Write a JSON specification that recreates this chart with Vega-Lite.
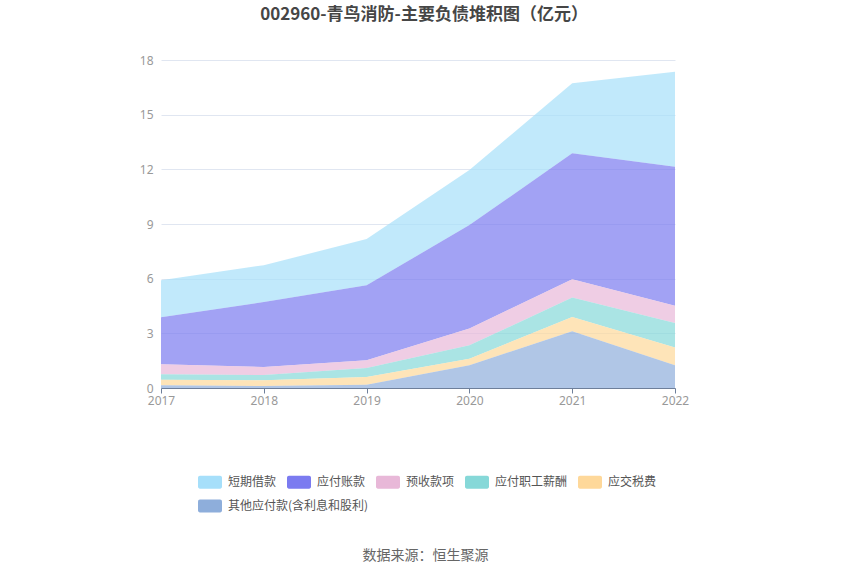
{
  "$schema": "https://vega.github.io/schema/vega-lite/v6.json",
  "autosize": {"type": "none"},
  "width": 514,
  "height": 328,
  "padding": {"left": 161, "top": 60, "right": 175, "bottom": 187},
  "background": "#ffffff",
  "title": {
    "text": "002960-青鸟消防-主要负债堆积图（亿元）",
    "anchor": "middle",
    "dx": 6,
    "offset": 30,
    "fontSize": 17,
    "fontWeight": "bold",
    "color": "#464646",
    "font": "Noto Sans CJK SC"
  },
  "config": {
    "view": {"stroke": null},
    "font": "Noto Sans CJK SC"
  },
  "data": {
    "values": [
      {"year": "2017", "series": "短期借款", "rank": 6, "value": 2.03},
      {"year": "2018", "series": "短期借款", "rank": 6, "value": 2.02},
      {"year": "2019", "series": "短期借款", "rank": 6, "value": 2.53},
      {"year": "2020", "series": "短期借款", "rank": 6, "value": 3.02},
      {"year": "2021", "series": "短期借款", "rank": 6, "value": 3.84},
      {"year": "2022", "series": "短期借款", "rank": 6, "value": 5.22},
      {"year": "2017", "series": "应付账款", "rank": 5, "value": 2.58},
      {"year": "2018", "series": "应付账款", "rank": 5, "value": 3.57},
      {"year": "2019", "series": "应付账款", "rank": 5, "value": 4.12},
      {"year": "2020", "series": "应付账款", "rank": 5, "value": 5.68},
      {"year": "2021", "series": "应付账款", "rank": 5, "value": 6.91},
      {"year": "2022", "series": "应付账款", "rank": 5, "value": 7.63},
      {"year": "2017", "series": "预收款项", "rank": 4, "value": 0.55},
      {"year": "2018", "series": "预收款项", "rank": 4, "value": 0.44},
      {"year": "2019", "series": "预收款项", "rank": 4, "value": 0.42},
      {"year": "2020", "series": "预收款项", "rank": 4, "value": 0.92},
      {"year": "2021", "series": "预收款项", "rank": 4, "value": 1.01},
      {"year": "2022", "series": "预收款项", "rank": 4, "value": 0.94},
      {"year": "2017", "series": "应付职工薪酬", "rank": 3, "value": 0.30},
      {"year": "2018", "series": "应付职工薪酬", "rank": 3, "value": 0.29},
      {"year": "2019", "series": "应付职工薪酬", "rank": 3, "value": 0.50},
      {"year": "2020", "series": "应付职工薪酬", "rank": 3, "value": 0.73},
      {"year": "2021", "series": "应付职工薪酬", "rank": 3, "value": 1.06},
      {"year": "2022", "series": "应付职工薪酬", "rank": 3, "value": 1.35},
      {"year": "2017", "series": "应交税费", "rank": 2, "value": 0.30},
      {"year": "2018", "series": "应交税费", "rank": 2, "value": 0.31},
      {"year": "2019", "series": "应交税费", "rank": 2, "value": 0.42},
      {"year": "2020", "series": "应交税费", "rank": 2, "value": 0.36},
      {"year": "2021", "series": "应交税费", "rank": 2, "value": 0.79},
      {"year": "2022", "series": "应交税费", "rank": 2, "value": 0.97},
      {"year": "2017", "series": "其他应付款(含利息和股利)", "rank": 1, "value": 0.15},
      {"year": "2018", "series": "其他应付款(含利息和股利)", "rank": 1, "value": 0.11},
      {"year": "2019", "series": "其他应付款(含利息和股利)", "rank": 1, "value": 0.18},
      {"year": "2020", "series": "其他应付款(含利息和股利)", "rank": 1, "value": 1.25},
      {"year": "2021", "series": "其他应付款(含利息和股利)", "rank": 1, "value": 3.11},
      {"year": "2022", "series": "其他应付款(含利息和股利)", "rank": 1, "value": 1.25}
    ]
  },
  "encoding": {
    "x": {
      "field": "year",
      "type": "ordinal",
      "scale": {"type": "point", "padding": 0},
      "axis": {
        "title": "数据来源：恒生聚源",
        "titleFontSize": 14,
        "titleFontWeight": "normal",
        "titleColor": "#666666",
        "titlePadding": 142,
        "titleX": 264,
        "labelAngle": 0,
        "labelColor": "#999999",
        "labelFontSize": 12,
        "labelFont": "Noto Sans",
        "labelPadding": 2,
        "domainColor": "#6e7f9a",
        "tickColor": "#6e7f9a",
        "tickSize": 5,
        "grid": false
      }
    },
    "y": {
      "field": "value",
      "type": "quantitative",
      "stack": "zero",
      "scale": {"domain": [0, 18]},
      "axis": {
        "title": null,
        "values": [0, 3, 6, 9, 12, 15, 18],
        "labelColor": "#999999",
        "labelFontSize": 12,
        "labelFont": "Noto Sans",
        "labelPadding": 8,
        "domain": false,
        "ticks": false,
        "gridColor": "#e0e6f1"
      }
    }
  },
  "layer": [
    {
      "mark": {"type": "area", "fillOpacity": 0.7, "strokeWidth": 0},
      "encoding": {
        "order": {"field": "rank", "type": "quantitative", "sort": "ascending"},
        "color": {
          "field": "series",
          "type": "nominal",
          "scale": {
            "domain": ["短期借款", "应付账款", "预收款项", "应付职工薪酬", "应交税费", "其他应付款(含利息和股利)"],
            "range": ["#a6dffa", "#7b7bf0", "#e8b8d8", "#86d8d8", "#fed89a", "transparent"]
          },
          "legend": {
            "title": null,
            "orient": "none",
            "direction": "horizontal",
            "legendX": 37,
            "legendY": 410,
            "values": ["短期借款", "应付账款", "预收款项", "应付职工薪酬", "应交税费"],
            "columnPadding": 10,
            "rowPadding": 0,
            "symbolType": "M-0.84,-0.54 h1.68 a0.16,0.16 0 0 1 0.16,0.16 v0.76 a0.16,0.16 0 0 1 -0.16,0.16 h-1.68 a0.16,0.16 0 0 1 -0.16,-0.16 v-0.76 a0.16,0.16 0 0 1 0.16,-0.16 z",
            "symbolSize": 576,
            "symbolOpacity": 1,
            "symbolStrokeWidth": 0,
            "labelFontSize": 12,
            "labelColor": "#555555",
            "labelOffset": 6,
            "labelLimit": 300
          }
        }
      }
    },
    {
      "transform": [{"filter": "datum.rank == 1"}],
      "mark": {"type": "area", "fillOpacity": 0.7, "strokeWidth": 0},
      "encoding": {
        "color": {
          "field": "series",
          "type": "nominal",
          "scale": {
            "domain": ["其他应付款(含利息和股利)"],
            "range": ["#8eaedb"]
          },
          "legend": {
            "title": null,
            "orient": "none",
            "legendX": 37,
            "legendY": 434,
            "symbolType": "M-0.84,-0.54 h1.68 a0.16,0.16 0 0 1 0.16,0.16 v0.76 a0.16,0.16 0 0 1 -0.16,0.16 h-1.68 a0.16,0.16 0 0 1 -0.16,-0.16 v-0.76 a0.16,0.16 0 0 1 0.16,-0.16 z",
            "symbolSize": 576,
            "symbolOpacity": 1,
            "symbolStrokeWidth": 0,
            "labelFontSize": 12,
            "labelColor": "#555555",
            "labelOffset": 6,
            "labelLimit": 300
          }
        }
      }
    }
  ],
  "resolve": {"scale": {"color": "independent"}, "legend": {"color": "independent"}}
}
